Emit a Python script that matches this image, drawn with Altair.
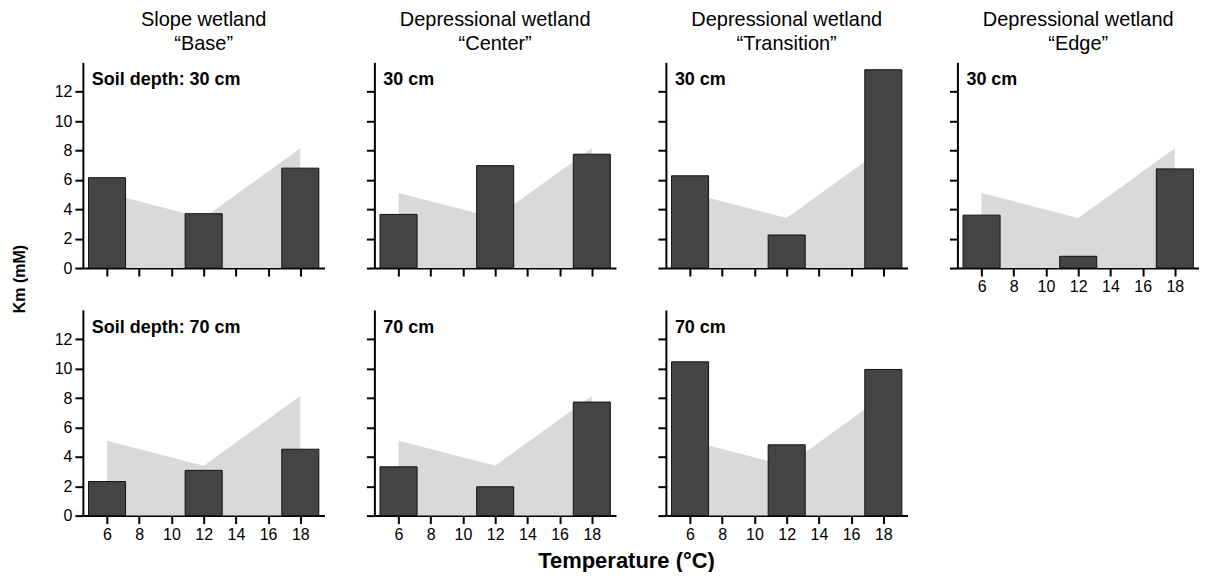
import altair as alt
import pandas as pd

FONT = "Liberation Sans"

# ---- data ----
temps = [6, 12, 18]
ref_temps = [6, 12, 18]
ref_km = [5.1, 3.4, 8.15]

base_30 = [6.15, 3.7, 6.8]
center_30 = [3.65, 6.97, 7.75]
transition_30 = [6.28, 2.25, 13.5]
edge_30 = [3.6, 0.8, 6.75]

base_70 = [2.32, 3.08, 4.52]
center_70 = [3.32, 1.96, 7.73]
transition_70 = [10.47, 4.82, 9.95]

wetland_types = ["Slope wetland", "Depressional wetland", "Depressional wetland", "Depressional wetland"]
positions = ["“Base”", "“Center”", "“Transition”", "“Edge”"]
x_ticks = [6, 8, 10, 12, 14, 16, 18]
y_ticks = [0, 2, 4, 6, 8, 10, 12]

PW, PH = 242, 206


def panel(values, label, title=None, show_y_labels=False, show_x_labels=False):
    bars_df = pd.DataFrame({"temp": temps, "km": values})
    ref_df = pd.DataFrame({"temp": ref_temps, "km": ref_km})
    xs = alt.Scale(domain=[4.5, 19.5], nice=False, zero=False)
    ys = alt.Scale(domain=[0, 14], nice=False)
    xa = alt.Axis(values=x_ticks, title=None, labels=show_x_labels, grid=False)
    ya = alt.Axis(values=y_ticks, title=None, grid=False,
                  labelOpacity=1 if show_y_labels else 0)
    area = alt.Chart(ref_df).mark_area(color="#d9d9d9").encode(
        x=alt.X("temp:Q", scale=xs, axis=xa),
        y=alt.Y("km:Q", scale=ys, axis=ya),
    )
    bars = alt.Chart(bars_df).transform_calculate(
        x0="datum.temp - 1.15", x1="datum.temp + 1.15"
    ).mark_bar(color="#444444", stroke="#111111", strokeWidth=1).encode(
        x=alt.X("x0:Q", scale=xs, axis=xa),
        x2="x1:Q",
        y=alt.Y("km:Q", scale=ys, axis=ya),
        y2=alt.datum(0),
    )
    txt = alt.Chart(pd.DataFrame({"label": [label]})).mark_text(
        align="left", baseline="alphabetic", fontSize=18, fontWeight="bold",
        font=FONT, color="black"
    ).encode(text="label:N", x=alt.value(9), y=alt.value(23))
    ch = alt.layer(area, bars, txt).properties(width=PW, height=PH)
    if title is not None:
        ch = ch.properties(title=alt.TitleParams(
            title, fontSize=20, fontWeight="normal", font=FONT, color="black",
            anchor="middle", lineHeight=24, offset=8))
    return ch


panels = [
    panel(base_30, "Soil depth: 30 cm", [wetland_types[0], positions[0]], show_y_labels=True),
    panel(center_30, "30 cm", [wetland_types[1], positions[1]]),
    panel(transition_30, "30 cm", [wetland_types[2], positions[2]]),
    panel(edge_30, "30 cm", [wetland_types[3], positions[3]], show_x_labels=True),
    panel(base_70, "Soil depth: 70 cm", show_y_labels=True, show_x_labels=True),
    panel(center_70, "70 cm", show_x_labels=True),
    panel(transition_70, "70 cm", show_x_labels=True),
]

grid = alt.concat(*panels, columns=4, spacing={"row": 15, "column": 21}).properties(
    title=alt.TitleParams("Temperature (°C)", orient="bottom", anchor="middle",
                          fontSize=22, fontWeight="bold", font=FONT, color="black",
                          offset=8)
)

ylab = alt.Chart(pd.DataFrame({"t": ["Km (mM)"]})).mark_text(
    angle=270, fontSize=16, fontWeight="bold", font=FONT, color="black",
    align="center", baseline="middle"
).encode(text="t:N", x=alt.value(12), y=alt.value(217)).properties(width=20, height=440)

chart = alt.hconcat(ylab, grid, spacing=26).properties(
    padding={"left": 0, "top": 2, "right": 0, "bottom": 0},
    background="white",
).configure_view(stroke=None).configure_axis(
    domainColor="black", domainWidth=2, tickColor="black", tickWidth=2, tickSize=8,
    labelFontSize=16, labelColor="black", labelFont=FONT, labelPadding=3,
)

chart.save("out.html", embed_options={"renderer": "svg", "actions": False})
